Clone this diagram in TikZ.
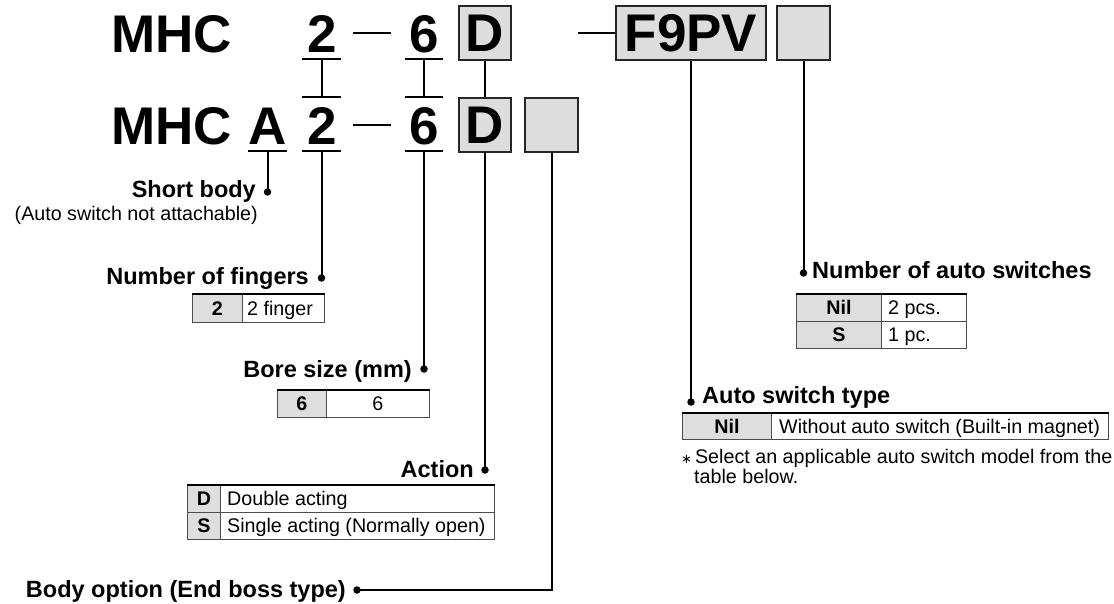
\documentclass[tikz,border=0pt]{standalone}
\usepackage{fontspec}
\setmainfont{Liberation Sans}
\newfontfamily\dejavu{DejaVu Sans}
\definecolor{boxgray}{HTML}{DDDDDD}
\definecolor{cellgray}{HTML}{DEDEDE}
\begin{document}
\begin{tikzpicture}[x=1pt,y=-1pt,
  big/.style={font=\fontsize{53}{53}\selectfont\bfseries, inner sep=0pt},
  lab/.style={font=\fontsize{23.5}{24}\selectfont\bfseries, inner sep=0pt},
  txt/.style={font=\fontsize{19.7}{22}\selectfont, inner sep=0pt},
  ctb/.style={font=\fontsize{19.7}{22}\selectfont\bfseries, inner sep=0pt},
  codebox/.style={draw=black!85, line width=2pt, fill=boxgray, inner sep=0pt, minimum height=54,
    font=\fontsize{53}{53}\selectfont\bfseries},
  conn/.style={line width=2pt},
  dashl/.style={line width=2.6pt},
  dotn/.style={circle, fill=black, inner sep=0pt, minimum size=7.5pt},
  cellL/.style={draw=black!70, line width=0.9pt, fill=cellgray, anchor=north west, inner sep=0pt},
  cellR/.style={draw=black!70, line width=0.9pt, fill=white, anchor=north west, inner sep=0pt},
  topline/.style={line width=2pt, black}
]
\useasboundingbox (0,0) rectangle (1114,604);

% ---------- top row ----------
\node[big, anchor=base west] (mhc1) at (111,53) {MHC};
\node[big, anchor=base] (t2) at (322.5,53) {2};
\node[big, anchor=base] (t6) at (424,53) {6};
\node[codebox, minimum width=52] (tD) at (485,33) {D};
\node[codebox, minimum width=150] (tF) at (691,33) {F9PV};
\node[codebox, minimum width=53] (tE) at (803.5,33) {};
\coordinate (td1a) at (353,33); \coordinate (td1b) at (391,33);
\draw[dashl] (td1a) -- (td1b);
\coordinate (td2a) at (578,33);
\draw[dashl] (td2a) -- (tF.west);

% ---------- bottom row ----------
\node[big, anchor=base west] (mhc2) at (111,145) {MHC};
\node[big, anchor=base] (bA) at (267.5,145) {A};
\node[big, anchor=base] (b2) at (322.5,145) {2};
\node[big, anchor=base] (b6) at (424,145) {6};
\node[codebox, minimum width=52] (bD) at (485,125) {D};
\node[codebox, minimum width=53] (bE) at (551.5,125) {};
\coordinate (bd1a) at (353,125); \coordinate (bd1b) at (391,125);
\draw[dashl] (bd1a) -- (bd1b);

% ---------- bars linking rows ----------
\draw[conn] (302,59) -- (341,59);
\draw[conn] (405,59) -- (443,59);
\draw[conn] (302,97) -- (341,97);
\draw[conn] (405,97) -- (443,97);
\coordinate (u2t) at (321.5,59); \coordinate (u2b) at (321.5,97);
\coordinate (u6t) at (424,59);   \coordinate (u6b) at (424,97);
\draw[conn] (u2t) -- (u2b);
\draw[conn] (u6t) -- (u6b);
\draw[conn] (tD.south) -- (bD.north);

% bottom underlines
\draw[conn] (248,151) -- (287,151);
\draw[conn] (302,151) -- (341,151);
\draw[conn] (405,151) -- (443,151);
\coordinate (uA) at (267.5,151);
\coordinate (u2) at (321.5,151);
\coordinate (u6) at (424,151);

% ---------- dots ----------
\node[dotn] (dSB) at (267.5,192) {};
\node[dotn] (dNF) at (321.5,278) {};
\node[dotn] (dBS) at (424,369) {};
\node[dotn] (dAC) at (485,470) {};
\node[dotn] (dBO) at (357,590) {};
\node[dotn] (dNA) at (803.5,273) {};
\node[dotn] (dAS) at (691,402) {};
\coordinate (cBO) at (bE.south |- dBO);

\draw[conn] (uA) -- (dSB.center);
\draw[conn] (u2) -- (dNF.center);
\draw[conn] (u6) -- (dBS.center);
\draw[conn] (bD.south) -- (dAC.center);
\draw[conn] (bE.south) -- (cBO) -- (dBO.center);
\draw[conn] (tE.south) -- (dNA.center);
\draw[conn] (tF.south) -- (dAS.center);

% ---------- labels ----------
\node[lab, anchor=base east] (lSB) at (256,198) {Short body};
\node[txt, anchor=base east] (lSB2) at (258,221) {(Auto switch not attachable)};
\node[lab, anchor=base east] (lNF) at (309,284) {Number of fingers};
\node[lab, anchor=base east] (lBS) at (412,377) {Bore size (mm)};
\node[lab, anchor=base east] (lAC) at (474,477) {Action};
\node[lab, anchor=base east] (lBO) at (346,597) {Body option (End boss type)};
\node[lab, anchor=base west] (lNA) at (812,278) {Number of auto switches};
\node[lab, anchor=base west] (lAS) at (702,403) {Auto switch type};

% ---------- table: number of fingers ----------
\node[cellL, minimum width=50, minimum height=28] (nf1) at (192,294) {};
\node[cellR, minimum width=82, minimum height=28] (nf2) at (242,294) {};
\draw[topline] (nf1.north west) -- (nf2.north east);
\node[ctb, anchor=base] (nf1t) at ([yshift=-7pt]nf1.center) {2};
\node[txt, anchor=base west] (nf2t) at ([xshift=5pt,yshift=-7pt]nf2.west) {2 finger};

% ---------- table: bore size ----------
\node[cellL, minimum width=49, minimum height=27] (bs1) at (277,390) {};
\node[cellR, minimum width=103, minimum height=27] (bs2) at (326,390) {};
\draw[topline] (bs1.north west) -- (bs2.north east);
\node[ctb, anchor=base] (bs1t) at ([yshift=-7pt]bs1.center) {6};
\node[txt, anchor=base] (bs2t) at ([yshift=-7pt]bs2.center) {6};

% ---------- table: action ----------
\node[cellL, minimum width=33, minimum height=27] (ac1) at (187,485) {};
\node[cellR, minimum width=274, minimum height=27] (ac2) at (220,485) {};
\node[cellL, minimum width=33, minimum height=27] (ac3) at (187,512) {};
\node[cellR, minimum width=274, minimum height=27] (ac4) at (220,512) {};
\draw[topline] (ac1.north west) -- (ac2.north east);
\node[ctb, anchor=base] (ac1t) at ([yshift=-7pt]ac1.center) {D};
\node[txt, anchor=base west] (ac2t) at ([xshift=7pt,yshift=-7pt]ac2.west) {Double acting};
\node[ctb, anchor=base] (ac3t) at ([yshift=-7pt]ac3.center) {S};
\node[txt, anchor=base west] (ac4t) at ([xshift=7pt,yshift=-7pt]ac4.west) {Single acting (Normally open)};

% ---------- table: number of auto switches ----------
\node[cellL, minimum width=85, minimum height=27] (na1) at (796,294) {};
\node[cellR, minimum width=85, minimum height=27] (na2) at (881,294) {};
\node[cellL, minimum width=85, minimum height=27] (na3) at (796,321) {};
\node[cellR, minimum width=85, minimum height=27] (na4) at (881,321) {};
\draw[topline] (na1.north west) -- (na2.north east);
\node[ctb, anchor=base] (na1t) at ([yshift=-7pt]na1.center) {Nil};
\node[txt, anchor=base west] (na2t) at ([xshift=7pt,yshift=-7pt]na2.west) {2 pcs.};
\node[ctb, anchor=base] (na3t) at ([yshift=-7pt]na3.center) {S};
\node[txt, anchor=base west] (na4t) at ([xshift=7pt,yshift=-7pt]na4.west) {1 pc.};

% ---------- table: auto switch type ----------
\node[cellL, minimum width=89, minimum height=26] (as1) at (682,413) {};
\node[cellR, minimum width=337, minimum height=26] (as2) at (771,413) {};
\draw[topline] (as1.north west) -- (as2.north east);
\node[ctb, anchor=base] (as1t) at ([yshift=-7pt]as1.center) {Nil};
\node[txt, anchor=base west] (as2t) at ([xshift=8pt,yshift=-7pt]as2.west) {Without auto switch (Built-in magnet)};

\node[txt, anchor=base west] (note1) at (681,463) {{\dejavu\fontsize{13}{13}\selectfont ∗}\hspace{3pt}Select an applicable auto switch model from the};
\node[txt, anchor=base west] (note2) at (694,483) {table below.};
\end{tikzpicture}
\end{document}
